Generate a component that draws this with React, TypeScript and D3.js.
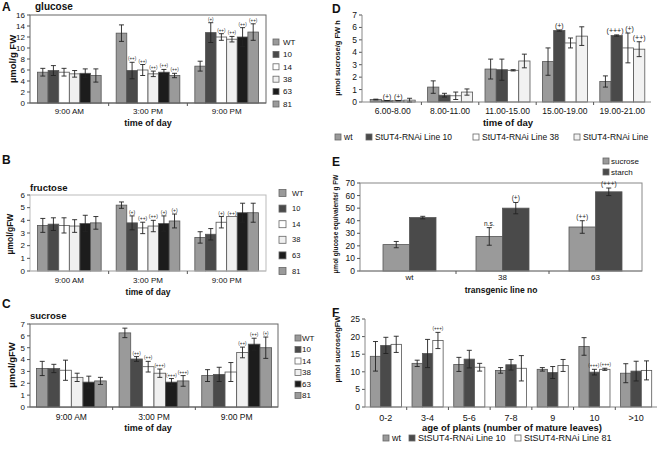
import React from "react";
import * as d3 from "d3";

// ---------- data ----------
const timeCats = ["9:00 AM", "3:00 PM", "9:00 PM"];
const lineKeys = ["WT", "10", "14", "38", "63", "81"];
const lineColors = ["#9a9a9a", "#4a4a4a", "#ffffff", "#f0f0f0", "#1c1c1c", "#9a9a9a"];

const glucoseMean = [[5.6, 5.9, 5.6, 5.3, 5.4, 5.0], [12.7, 5.9, 6.0, 5.3, 5.6, 5.0], [6.7, 12.8, 12.0, 11.6, 12.0, 12.9]];
const glucoseErr = [[0.7, 0.9, 0.7, 0.6, 0.8, 1.2], [1.5, 1.5, 1.0, 0.5, 0.5, 0.4], [0.9, 1.8, 0.6, 0.5, 1.7, 1.5]];
const glucoseSig = [["", "", "", "", "", ""], ["", "(++)", "(++)", "(++)", "(++)", "(++)"], ["", "(+)", "(++)", "(++)", "(++)", "(++)"]];

const fructoseMean = [[3.6, 3.7, 3.6, 3.55, 3.75, 3.8], [5.2, 3.8, 3.4, 3.55, 3.75, 3.95], [2.65, 2.9, 3.85, 4.3, 4.6, 4.6]];
const fructoseErr = [[0.55, 0.5, 0.6, 0.5, 0.65, 0.5], [0.25, 0.55, 0.45, 0.45, 0.6, 0.55], [0.45, 0.45, 0.45, 0, 0.75, 0.75]];
const fructoseSig = [["", "", "", "", "", ""], ["", "(+)", "(++)", "(++)", "(+)", "(+)"], ["", "", "(+)", "(++)", "", ""]];

const sucroseMean = [[3.25, 3.25, 3.1, 2.5, 2.1, 2.2], [6.25, 4.05, 3.4, 2.85, 2.1, 2.2], [2.65, 2.75, 2.95, 4.6, 5.3, 5.0]];
const sucroseErr = [[0.6, 0.35, 0.85, 0.35, 0.5, 0.3], [0.4, 0.2, 0.45, 0.35, 0.3, 0.45], [0.5, 0.6, 0.8, 0.45, 0.5, 0.9]];
const sucroseSig = [["", "", "", "", "", ""], ["", "(++)", "(++)", "(+++)", "(+++)", "(+++)"], ["", "", "", "(++)", "(++)", "(+)"]];

const periods = ["6.00-8.00", "8.00-11.00", "11.00-15.00", "15.00-19.00", "19.00-21.00"];
const exportNames = ["wt", "StUT4-RNAi Line 10", "StUT4-RNAi Line 38", "StUT4-RNAi Line"];
const exportColors = ["#9a9a9a", "#4a4a4a", "#ffffff", "#f2f2f2"];
const exportWt = [0.2, 1.2, 2.65, 3.25, 1.65];
const exportWtErr = [0.03, 0.5, 0.8, 1.1, 0.45];
const exportL10 = [0.1, 0.55, 2.6, 5.75, 5.35];
const exportL10Err = [0.02, 0.15, 0.85, 0.05, 0.05];
const exportL38 = [0.1, 0.5, 2.55, 4.75, 4.35];
const exportL38Err = [0.02, 0.3, 0.05, 0.4, 1.2];
const exportL81 = [0.15, 0.8, 3.3, 5.3, 4.25];
const exportL81Err = [0.15, 0.25, 0.55, 0.75, 0.6];
const exportSigWt = ["", "", "", "", ""];
const exportSigL10 = ["(+)", "", "", "(+)", "(+++)"];
const exportSigL38 = ["(+)", "", "", "", "(+)"];
const exportSigL81 = ["", "", "", "", "(++)"];

const transLines = ["wt", "38", "63"];
const carbNames = ["sucrose", "starch"];
const carbColors = ["#9a9a9a", "#4a4a4a"];
const carbSucrose = [21, 27.5, 35];
const carbSucroseErr = [2.5, 7, 5];
const carbStarch = [42.5, 50, 63];
const carbStarchErr = [1, 4.5, 3];
const carbSucroseSig = ["", "n.s.", "(++)"];
const carbStarchSig = ["", "(+)", "(+++)"];

const ages = ["0-2", "3-4", "5-6", "7-8", "9", "10", ">10"];
const ageNames = ["wt", "StSUT4-RNAi Line 10", "StSUT4-RNAi Line 81"];
const ageColors = ["#9a9a9a", "#4a4a4a", "#ffffff"];
const ageWt = [14.4, 12.4, 12.1, 10.4, 10.7, 17.2, 9.6];
const ageWtErr = [4.2, 0.9, 2.0, 0.8, 0.5, 2.5, 2.7];
const ageL10 = [17.5, 15.2, 13.6, 12.0, 9.8, 9.9, 10.2];
const ageL10Err = [2.3, 4.0, 2.5, 1.5, 1.7, 0.8, 2.8];
const ageL81 = [17.8, 18.9, 11.3, 11.0, 11.8, 10.7, 10.4];
const ageL81Err = [2.3, 2.3, 1.1, 3.6, 1.7, 0.3, 2.7];
const ageSigWt = ["", "", "", "", "", "", ""];
const ageSigL10 = ["", "", "", "", "", "(+++)", ""];
const ageSigL81 = ["", "(+++)", "", "", "", "(+++)", ""];

const FONT = "Liberation Sans, Arial, sans-serif";

type Series = { name: string; color: string; values: number[]; errs: number[]; sigs: string[] };

type PanelProps = {
  cats: string[];
  series: Series[];
  left: number; right: number; top: number; bottom: number;
  yMax: number; yStep: number;
  groupPad: number;
  frame: "box" | "axes";
  frameColor: string;
  tickFont: number;
  xFont: number;
  sigFont: number;
  xLabelY: number;
  bandStart?: number;
};

function Panel(p: PanelProps) {
  const bs = p.bandStart ?? p.left;
  const x0 = d3.scaleBand<string>().domain(p.cats).range([bs, p.right]).padding(0);
  const step = x0.bandwidth();
  const x1 = d3.scaleBand<string>().domain(p.series.map((s) => s.name)).range([p.groupPad, step - p.groupPad]).padding(0);
  const y = d3.scaleLinear().domain([0, p.yMax]).range([p.bottom, p.top]);
  const ticks = d3.range(0, p.yMax + 0.001, p.yStep);
  const bw = x1.bandwidth();

  // significance labels with simple collision avoidance per category
  const sigLabels: { key: string; x: number; y: number; s: string }[] = [];
  p.cats.forEach((c, i) => {
    const group: { key: string; x: number; y: number; s: string; w: number }[] = [];
    p.series.forEach((s) => {
      const str = s.sigs[i];
      if (!str) return;
      const cx = (x0(c) as number) + (x1(s.name) as number) + bw / 2;
      const yt = y(s.values[i] + s.errs[i]) - 2;
      group.push({ key: s.name + c, x: cx, y: yt, s: str, w: str.length * p.sigFont * 0.5 });
    });
    for (let k = 1; k < group.length; k++) {
      const a = group[k - 1];
      const b = group[k];
      const need = (a.w + b.w) / 2 + 0.5 - (b.x - a.x);
      if (need > 0 && Math.abs(a.y - b.y) < p.sigFont) {
        a.x -= need / 2;
        b.x += need / 2;
      }
    }
    group.forEach((g) => sigLabels.push(g));
  });

  return (
    <g>
      {p.frame === "box" ? (
        <rect x={p.left} y={p.top} width={p.right - p.left} height={p.bottom - p.top} fill="#fff" stroke={p.frameColor} strokeWidth={1} />
      ) : null}
      {ticks.map((t) => (
        <g key={"t" + t}>
          <line x1={p.left - 3} x2={p.left} y1={y(t)} y2={y(t)} stroke="#555" />
          <text x={p.left - 5} y={y(t) + p.tickFont * 0.35} fontSize={p.tickFont} textAnchor="end" fontFamily={FONT} fill="#111">{t}</text>
        </g>
      ))}
      {p.series.map((s) =>
        p.cats.map((c, i) => {
          const bx = (x0(c) as number) + (x1(s.name) as number);
          const v = s.values[i];
          const e = s.errs[i];
          const cx = bx + bw / 2;
          return (
            <g key={s.name + c}>
              <rect x={bx} y={y(v)} width={bw} height={p.bottom - y(v)} fill={s.color} stroke="#555" strokeWidth={0.8} />
              {e > 0 ? (
                <g stroke="#222" strokeWidth={0.9}>
                  <line x1={cx} x2={cx} y1={y(v + e)} y2={y(v - e)} />
                  <line x1={cx - 2.5} x2={cx + 2.5} y1={y(v + e)} y2={y(v + e)} />
                  <line x1={cx - 2.5} x2={cx + 2.5} y1={y(v - e)} y2={y(v - e)} />
                </g>
              ) : null}
            </g>
          );
        })
      )}
      {sigLabels.map((g) => (
        <text key={"s" + g.key} x={g.x} y={g.y} fontSize={p.sigFont} textAnchor="middle" fontFamily={FONT} fill="#222">{g.s}</text>
      ))}
      {p.frame === "axes" ? (
        <g stroke={p.frameColor} strokeWidth={1}>
          <line x1={p.left} x2={p.left} y1={p.top} y2={p.bottom} />
          <line x1={p.left} x2={p.right} y1={p.bottom} y2={p.bottom} />
        </g>
      ) : (
        <g stroke={p.frameColor} strokeWidth={1}>
          <line x1={p.left} x2={p.right} y1={p.bottom} y2={p.bottom} />
        </g>
      )}
      {p.cats.map((c, i) => (
        <g key={"x" + c}>
          {i > 0 ? <line x1={x0(c)} x2={x0(c)} y1={p.bottom} y2={p.bottom + 3} stroke="#555" /> : null}
          <text x={(x0(c) as number) + step / 2} y={p.xLabelY} fontSize={p.xFont} textAnchor="middle" fontFamily={FONT} fill="#111">{c}</text>
        </g>
      ))}
    </g>
  );
}

function mk(names: string[], colors: string[], means: number[][], errs: number[][], sigs: string[][]): Series[] {
  return names.map((n, j) => ({
    name: n,
    color: colors[j],
    values: means.map((r) => r[j]),
    errs: errs.map((r) => r[j]),
    sigs: sigs.map((r) => r[j]),
  }));
}

function VLegend({ x, tx, ys, names, colors, size, font }: { x: number; tx: number; ys: number[]; names: string[]; colors: string[]; size: number; font: number }) {
  return (
    <g>
      {names.map((n, i) => (
        <g key={n + i}>
          <rect x={x} y={ys[i] - size / 2} width={size} height={size} fill={colors[i]} stroke="#666" strokeWidth={0.8} />
          <text x={tx} y={ys[i] + font * 0.35} fontSize={font} fontFamily={FONT} fill="#111">{n}</text>
        </g>
      ))}
    </g>
  );
}

function HLegend({ xs, y, names, colors, size, font }: { xs: number[]; y: number; names: string[]; colors: string[]; size: number; font: number }) {
  return (
    <g>
      {names.map((n, i) => (
        <g key={n}>
          <rect x={xs[i]} y={y - size / 2} width={size} height={size} fill={colors[i]} stroke="#666" strokeWidth={0.8} />
          <text x={xs[i] + size + 3} y={y + font * 0.35} fontSize={font} fontFamily={FONT} fill="#111">{n}</text>
        </g>
      ))}
    </g>
  );
}

function Txt({ x, y, s, size, bold, anchor, rotate }: { x: number; y: number; s: string; size: number; bold?: boolean; anchor?: string; rotate?: boolean }) {
  return (
    <text
      x={x}
      y={y}
      fontSize={size}
      fontWeight={bold ? "bold" : "normal"}
      textAnchor={anchor || "start"}
      fontFamily={FONT}
      fill="#111"
      transform={rotate ? `rotate(-90 ${x} ${y})` : undefined}
      dominantBaseline={rotate ? "middle" : undefined}
    >
      {s}
    </text>
  );
}

export default function App() {
  const gluS = mk(lineKeys, lineColors, glucoseMean, glucoseErr, glucoseSig);
  const fruS = mk(lineKeys, lineColors, fructoseMean, fructoseErr, fructoseSig);
  const sucS = mk(lineKeys, lineColors, sucroseMean, sucroseErr, sucroseSig);
  const expS: Series[] = [
    { name: exportNames[0], color: exportColors[0], values: exportWt, errs: exportWtErr, sigs: exportSigWt },
    { name: exportNames[1], color: exportColors[1], values: exportL10, errs: exportL10Err, sigs: exportSigL10 },
    { name: exportNames[2], color: exportColors[2], values: exportL38, errs: exportL38Err, sigs: exportSigL38 },
    { name: exportNames[3], color: exportColors[3], values: exportL81, errs: exportL81Err, sigs: exportSigL81 },
  ];
  const carbS: Series[] = [
    { name: carbNames[0], color: carbColors[0], values: carbSucrose, errs: carbSucroseErr, sigs: carbSucroseSig },
    { name: carbNames[1], color: carbColors[1], values: carbStarch, errs: carbStarchErr, sigs: carbStarchSig },
  ];
  const ageS: Series[] = [
    { name: ageNames[0], color: ageColors[0], values: ageWt, errs: ageWtErr, sigs: ageSigWt },
    { name: ageNames[1], color: ageColors[1], values: ageL10, errs: ageL10Err, sigs: ageSigL10 },
    { name: ageNames[2], color: ageColors[2], values: ageL81, errs: ageL81Err, sigs: ageSigL81 },
  ];

  return (
    <svg width={661} height={449} style={{ position: "absolute", left: 0, top: 0, background: "#fff" }}>
      <rect x={0} y={0} width={661} height={449} fill="#fff" />
      {/* Panel A */}
      <Txt x={2} y={11} s="A" size={12} bold />
      <Txt x={35} y={10} s="glucose" size={10} bold />
      <Txt x={13} y={59} s="µmol/g FW" size={9.5} bold anchor="middle" rotate />
      <Panel cats={timeCats} series={gluS} left={30} right={266} top={15} bottom={103} yMax={16} yStep={2}
        groupPad={7.5} frame="box" frameColor="#666" tickFont={8} xFont={8} sigFont={4.5} xLabelY={114} />
      <Txt x={148} y={126} s="time of day" size={9} bold anchor="middle" />
      <VLegend x={273} tx={283} ys={[42, 54.4, 66.8, 79.2, 91.6, 104]} names={lineKeys} colors={lineColors} size={6} font={8} />

      {/* Panel B */}
      <Txt x={2} y={164} s="B" size={12} bold />
      <Txt x={30} y={191} s="fructose" size={9.5} bold />
      <Txt x={11} y={234} s="µmol/gFW" size={8.5} bold anchor="middle" rotate />
      <Panel cats={timeCats} series={fruS} left={30} right={266} top={195} bottom={271} yMax={6} yStep={1}
        groupPad={7.5} frame="box" frameColor="#bbb" tickFont={8} xFont={8} sigFont={5} xLabelY={283} />
      <Txt x={148} y={295} s="time of day" size={8.5} bold anchor="middle" />
      <VLegend x={279} tx={292} ys={[193, 208.6, 224.2, 239.8, 255.4, 271]} names={lineKeys} colors={lineColors} size={7} font={7.5} />

      {/* Panel C */}
      <Txt x={2} y={308} s="C" size={12} bold />
      <Txt x={30} y={319} s="sucrose" size={9.5} bold />
      <Txt x={12} y={365} s="µmol/gFW" size={9.5} bold anchor="middle" rotate />
      <Panel cats={timeCats} series={sucS} left={30} right={278} top={324} bottom={407} yMax={7} yStep={1}
        groupPad={6.4} frame="box" frameColor="#666" tickFont={8} xFont={8.5} sigFont={4.5} xLabelY={420} />
      <Txt x={148} y={431} s="time of day" size={9} bold anchor="middle" />
      <VLegend x={295} tx={302} ys={[338, 349.5, 361, 372.5, 384, 395.5]} names={lineKeys} colors={lineColors} size={6} font={8} />

      {/* Panel D */}
      <Txt x={332} y={13} s="D" size={12} bold />
      <Txt x={338} y={58} s="µmol sucrose/g FW h" size={7.5} bold anchor="middle" rotate />
      <Panel cats={periods} series={expS} left={362} right={651} top={15} bottom={102} yMax={7} yStep={1}
        groupPad={6.2} frame="axes" frameColor="#888" tickFont={8.5} xFont={8.5} sigFont={7} xLabelY={114} bandStart={364} />
      <Txt x={508} y={126} s="time of day" size={9.5} bold anchor="middle" />
      <HLegend xs={[335, 366, 473, 574]} y={137} names={exportNames} colors={exportColors} size={6} font={8.5} />

      {/* Panel E */}
      <Txt x={332} y={166} s="E" size={12} bold />
      <Txt x={336} y={224} s="µmol glucose equivalents/ g FW" size={6.5} bold anchor="middle" rotate />
      <Panel cats={transLines} series={carbS} left={360} right={642} top={183} bottom={271} yMax={70} yStep={10}
        groupPad={20} frame="box" frameColor="#888" tickFont={8.5} xFont={8} sigFont={6.5} xLabelY={280} bandStart={363} />
      <Txt x={501} y={293} s="transgenic line no" size={8.5} bold anchor="middle" />
      <VLegend x={603} tx={611} ys={[161, 172]} names={carbNames} colors={carbColors} size={6} font={8} />

      {/* Panel F */}
      <Txt x={332} y={317} s="F" size={12} bold />
      <Txt x={338} y={349} s="µmol sucrose/gFW" size={7.5} bold anchor="middle" rotate />
      <Panel cats={ages} series={ageS} left={365} right={657} top={319} bottom={407} yMax={25} yStep={5}
        groupPad={5.3} frame="axes" frameColor="#888" tickFont={8.5} xFont={9} sigFont={4.5} xLabelY={421} />
      <Txt x={512} y={431} s="age of plants (number of mature leaves)" size={9.5} bold anchor="middle" />
      <HLegend xs={[383, 409, 515]} y={438} names={ageNames} colors={ageColors} size={6} font={9} />
    </svg>
  );
}
